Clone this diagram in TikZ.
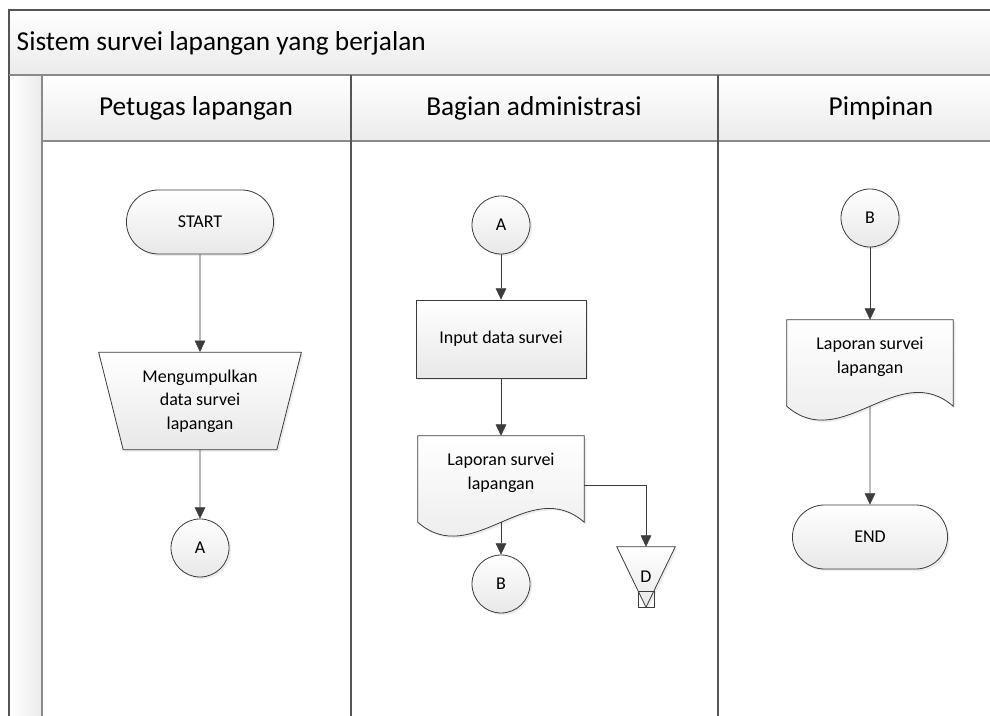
\documentclass[tikz,border=0pt]{standalone}
\usepackage{fontspec}
\setmainfont{Carlito}
\usetikzlibrary{arrows.meta,positioning,calc,shapes.geometric,shapes.misc,shadows}
\definecolor{linegray}{HTML}{3C3C3C}
\definecolor{shapegray}{HTML}{E8E8E8}
\definecolor{bandgray}{HTML}{EBEBEB}
\definecolor{poolline}{HTML}{555555}
\definecolor{laneline}{HTML}{8A8A8A}
\pgfdeclarelayer{bg}
\pgfsetlayers{bg,main}
\newcommand{\shapefont}{\fontsize{13.5}{17.5}\selectfont}
\newcommand{\headfont}{\fontsize{20.5}{24}\selectfont}
% outline of a document symbol round a named node
\newcommand{\docoutline}[1]{%
  \begin{pgfonlayer}{bg}
  \path[shapebox] (#1.north west) -- ($(#1.south west)+(0,12)$)
    .. controls +(55,48) and +(-55,-48) .. ($(#1.south east)+(0,12)$)
    -- (#1.north east) -- cycle;
  \end{pgfonlayer}
  \coordinate (#1-b) at ($(#1.south)+(0,12)$);
}

\begin{document}
\begin{tikzpicture}[x=0.75pt,y=-0.75pt,>={Triangle[length=8.5pt,width=8pt]},line width=1pt]
\tikzstyle{shapebox}=[draw=linegray,line width=0.6pt,top color=white,bottom color=shapegray,drop shadow={shadow xshift=1.5pt,shadow yshift=-1.5pt,opacity=0.15}]
\tikzstyle{term}=[rounded rectangle,shapebox,minimum width=117pt,minimum height=48pt,font=\shapefont]
\tikzstyle{conn}=[circle,shapebox,minimum size=43.5pt,inner sep=0pt,font=\shapefont]
\tikzstyle{manual}=[trapezium,shapebox,trapezium angle=71,trapezium stretches body,shape border rotate=180,minimum width=152pt,minimum height=73pt,align=center,font=\shapefont]
\tikzstyle{process}=[rectangle,shapebox,minimum width=127.5pt,minimum height=58.5pt,align=center,font=\shapefont]
\tikzstyle{docbox}=[rectangle,minimum width=124.5pt,minimum height=55.5pt,align=center,font=\shapefont]
\tikzstyle{flow}=[->,draw=linegray]
\useasboundingbox (0,0) rectangle (990,716);
% pool and lanes
\begin{pgfonlayer}{bg}
\fill[white] (0,0) rectangle (990,716);
\fill[top color=white,bottom color=bandgray] (9,10) rectangle (992,75);
\fill[top color=white,bottom color=bandgray] (42,75) rectangle (992,141);
\fill[left color=white,right color=bandgray] (9,75) rectangle (42,718);
\draw[poolline,line width=1.3pt] (992,10) -- (9,10) -- (9,718);
\draw[laneline,line width=1.2pt] (9,75) -- (992,75);
\draw[laneline,line width=1.2pt] (42,141) -- (992,141);
\draw[laneline,line width=1.2pt] (42,75) -- (42,718);
\draw[poolline,line width=1pt] (351,75) -- (351,718);
\draw[poolline,line width=1pt] (718,75) -- (718,718);
\end{pgfonlayer}
\node[anchor=west,font=\headfont] (pool) at (12,43) {Sistem survei lapangan yang berjalan};
\node[font=\headfont] (lane1) at (196,108) {Petugas lapangan};
\node[font=\headfont] (lane2) at (534,108) {Bagian administrasi};
\node[font=\headfont] (lane3) at (881,108) {Pimpinan};

% Petugas lapangan
\node[term] (start) at (200,222) {START};
\node[manual] (collect) at (200,401) {Mengumpulkan\\data survei\\lapangan};
\node[conn] (a1) at (200,548) {A};
\draw[flow] (start) -- (collect);
\draw[flow] (collect) -- (a1);

% Bagian administrasi
\node[conn] (a2) at (501,225) {A};
\node[process] (input) at (501,339) {Input data survei};
\node[docbox] (lap2) at (501,473) {Laporan survei\\lapangan};
\docoutline{lap2}
\node[conn] (b2) at (501,584) {B};
\node[minimum width=43.5pt,minimum height=45pt,inner sep=0pt,font=\shapefont] (arsip) at (646,577) {D};
\begin{pgfonlayer}{bg}
\path[shapebox] (arsip.north west) -- (arsip.north east) -- (arsip.south) -- cycle;
\draw[linegray,line width=0.6pt] ($(arsip.south)+(-8,-16)$) rectangle ($(arsip.south)+(8,0)$);
\end{pgfonlayer}
\draw[flow] (a2) -- (input);
\draw[flow] (input) -- (lap2);
\draw[flow] (lap2-b) -- (b2);
\draw[flow] ([yshift=-9pt]lap2.east) -| (arsip.north);

% Pimpinan
\node[conn] (b3) at (870,218) {B};
\node[docbox] (lap3) at (870,357) {Laporan survei\\lapangan};
\docoutline{lap3}
\node[term,minimum width=123pt] (end) at (870,537) {END};
\draw[flow] (b3) -- (lap3);
\draw[flow] (lap3-b) -- (end);
\end{tikzpicture}
\end{document}
